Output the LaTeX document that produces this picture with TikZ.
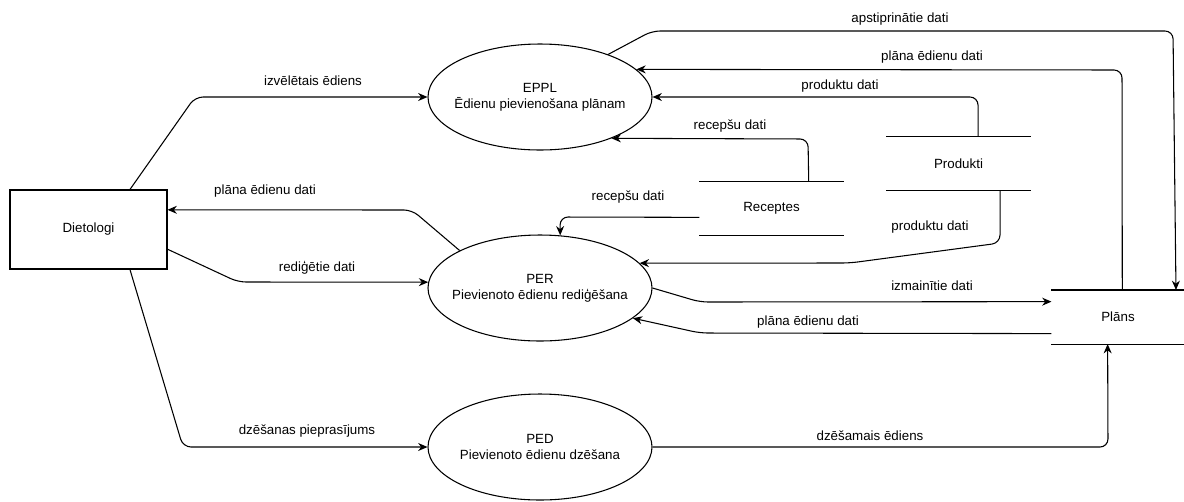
\documentclass[tikz,border=0pt]{standalone}
\usepackage{fontspec}
\setmainfont{Liberation Sans}
\usetikzlibrary{shapes.geometric,arrows.meta}

\begin{document}
\begin{tikzpicture}[x=0.75pt,y=-0.75pt,>={Stealth[length=7pt,width=6pt]},line width=0.8pt,font=\fontsize{10}{12}\selectfont,
	ent/.style={draw,minimum width=117.75pt,minimum height=59.25pt},
	proc/.style={draw,ellipse,minimum width=168pt,minimum height=79.5pt},
	store/.style={minimum width=107.25pt,minimum height=39.75pt,inner sep=0pt},
	flow/.style={->,rounded corners=6pt},
	lbl/.style={inner sep=1pt}]
	\useasboundingbox (0,0) rectangle (1184,501);
	% entity, processes, stores
	\node[ent] (diet) at (88.5,229.5) {Dietologi};
	\node[proc,label={[align=center]center:EPPL\\Ēdienu pievienošana plānam}] (eppl) at (540,97) {};
	\node[proc,label={[align=center]center:PER\\Pievienoto ēdienu rediģēšana}] (per) at (540,288) {};
	\node[proc,label={[align=center]center:PED\\Pievienoto ēdienu dzēšana}] (ped) at (540,447) {};
	\node[store] (rec) at (771.5,208.5) {Receptes};
	\node[store] (prod) at (958.5,163.5) {Produkti};
	\node[store,minimum width=99pt] (plans) at (1118,317) {Plāns};
	\foreach \s in {rec,prod,plans}
		\draw (\s.north west) -- (\s.north east) (\s.south west) -- (\s.south east);
	% flows
	\draw[flow] (diet.44) -- (195,97) -- (eppl.west);
	\draw[flow] (per.155) -- (412,210) -- (diet.14);
	\draw[flow] (diet.-14) -- (238,282) -- (per.177);
	\draw[flow] (diet.-44) -- (183,447) -- (ped.west);
	\draw[flow] (eppl.32) -- (652,31) -- (1173,31) -- (plans.25.3);
	\draw[flow] (plans.81) -- (1122,70) -- (eppl.16);
	\draw[flow] (prod.54) -- (978,97) -- (eppl.east);
	\draw[flow] (rec.36) -- (808,139) -- (eppl.-30.5);
	\draw[flow] (rec.187) -- (560,217) -- (per.69);
	\draw[flow] (prod.-33) -- (1000,243) -- (850,263) -- (per.14.2);
	\draw[flow] (per.east) -- (700,302) -- (plans.167);
	\draw[flow] (plans.194) -- (700,333) -- (per.-18.8);
	\draw[flow] (ped.east) -- (1108,447) -- (plans.-111);
	% labels
	\node[lbl] (l1) at (313,81) {izvēlētais ēdiens};
	\node[lbl] (l2) at (265,191) {plāna ēdienu dati};
	\node[lbl] (l3) at (317,268) {rediģētie dati};
	\node[lbl] (l4) at (307,431) {dzēšanas pieprasījums};
	\node[lbl] (l5) at (900,19) {apstiprinātie dati};
	\node[lbl] (l6) at (932,57) {plāna ēdienu dati};
	\node[lbl] (l7) at (840,86) {produktu dati};
	\node[lbl] (l8) at (730,126) {recepšu dati};
	\node[lbl] (l9) at (628,197) {recepšu dati};
	\node[lbl] (l10) at (930,227) {produktu dati};
	\node[lbl] (l11) at (932,286) {izmainītie dati};
	\node[lbl] (l12) at (808,322) {plāna ēdienu dati};
	\node[lbl] (l13) at (870,436) {dzēšamais ēdiens};
\end{tikzpicture}
\end{document}
